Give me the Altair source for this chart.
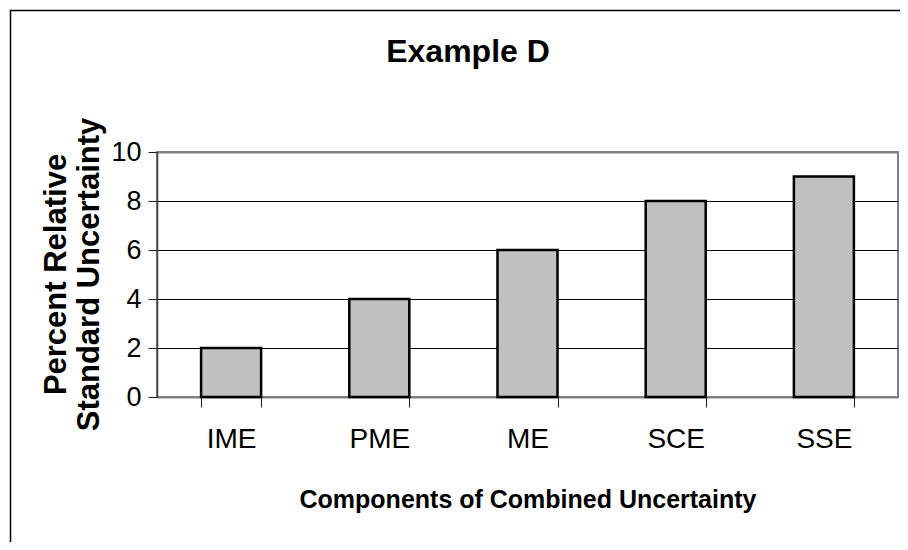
import altair as alt
import pandas as pd

categories = ["IME", "PME", "ME", "SCE", "SSE"]
values = [2, 4, 6, 8, 9]
y_ticks = [0, 2, 4, 6, 8, 10]
chart_title = ["Example D"]
x_title = "Components of Combined Uncertainty"
y_title = ["Percent Relative", "Standard Uncertainty"]

FONT = "Liberation Sans"

df = pd.DataFrame({"component": categories, "value": values})
title_df = pd.DataFrame({"t": chart_title})
frame_df = pd.DataFrame({"k": [0]})

frame = alt.Chart(frame_df).mark_rect(filled=False, stroke="black", strokeWidth=1.5).encode(
    x=alt.value(-146.5), y=alt.value(-141.5), x2=alt.value(746), y2=alt.value(393)
)

bars = alt.Chart(df).mark_bar(color="#C0C0C0", stroke="black", strokeWidth=2.5).encode(
    x=alt.X(
        "component:N",
        sort=categories,
        scale=alt.Scale(paddingInner=0.595, paddingOuter=0.2975),
        axis=alt.Axis(
            title=x_title, labelAngle=0, tickBand="extent", tickSize=10, tickColor="#202020",
            domainColor="#808080", domainWidth=2, labelFontSize=28, labelPadding=18,
            labelColor="black", labelFont=FONT, titleFont=FONT, titleFontSize=25,
            titleFontWeight="bold", titleColor="black", titleY=110, titleBaseline="alphabetic",
            grid=False,
        ),
    ),
    y=alt.Y(
        "value:Q",
        scale=alt.Scale(domain=[0, 10], nice=False),
        axis=alt.Axis(
            values=y_ticks, title=y_title, tickSize=9, tickColor="#202020",
            domainColor="#404040", domainWidth=1.5, labelFontSize=27, labelPadding=7,
            labelColor="black", labelFont=FONT, labelOverlap=False,
            grid=True,
            gridColor={"condition": {"test": "datum.value == 10", "value": "#808080"}, "value": "black"},
            gridWidth={"condition": {"test": "datum.value == 10", "value": 2}, "value": 1},
            titleFont=FONT, titleFontSize=31, titleFontWeight="bold", titleColor="black",
            titleX=-92, titleY=122, titleAngle=270, titleAlign="center",
            titleBaseline="alphabetic", titleLineHeight=33,
        ),
    ),
)

title = alt.Chart(title_df).mark_text(
    font=FONT, fontSize=32, fontWeight="bold", align="center", baseline="alphabetic", color="black"
).encode(text="t:N", x=alt.value(311), y=alt.value(-90))

chart = (
    alt.layer(frame, bars, title)
    .properties(
        width=741,
        height=245,
        autosize=alt.AutoSizeParams(type="none"),
        padding={"left": 149, "top": 144, "right": 2, "bottom": 145},
        background="white",
    )
    .configure_view(stroke="#808080", strokeWidth=2)
)

chart.save("out.html", embed_options={"renderer": "svg", "actions": False})
